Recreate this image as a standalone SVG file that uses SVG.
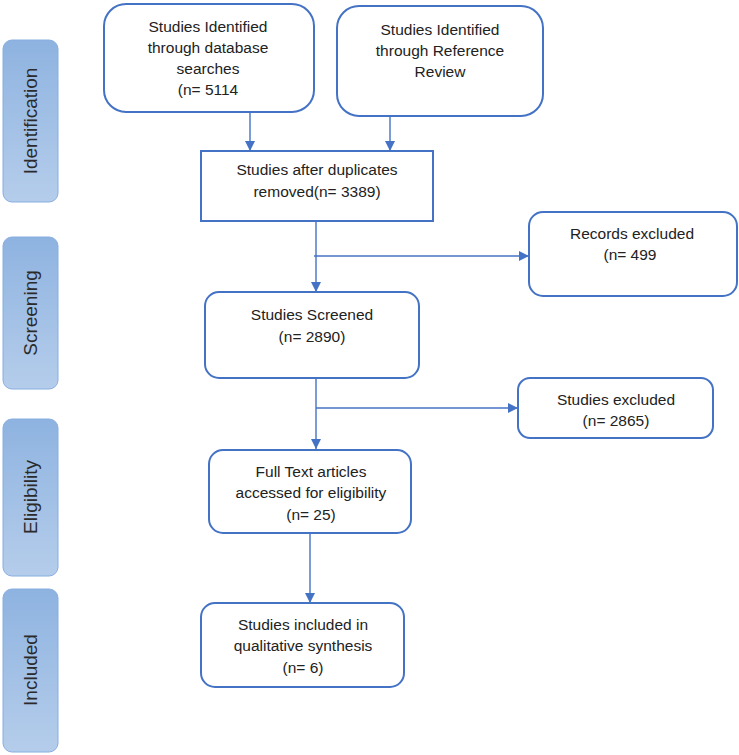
<svg xmlns="http://www.w3.org/2000/svg" width="739" height="755" viewBox="0 0 739 755">
<defs>
<linearGradient id="bar" x1="0" y1="0" x2="0" y2="1">
<stop offset="0" stop-color="#8eb3e0"/>
<stop offset="1" stop-color="#b5cdeb"/>
</linearGradient>
<marker id="ah" viewBox="0 0 10 10" refX="10" refY="5" markerWidth="10" markerHeight="10" markerUnits="userSpaceOnUse" orient="auto">
<path d="M0,0 L10,5 L0,10 z" fill="#4472c4"/>
</marker>
<style>
.bar{fill:url(#bar);stroke:#86aee0;stroke-width:1}
.bt{font-family:"Liberation Sans",Arial,sans-serif;font-size:19px;fill:#2b2b2b;text-anchor:middle}
.box{fill:#fff;stroke:#4472c4;stroke-width:2}
.t{font-family:"Liberation Sans",Arial,sans-serif;font-size:15.5px;fill:#222;text-anchor:middle}
.c{fill:none;stroke:#4472c4;stroke-width:1.4}
</style>
</defs>
<rect width="739" height="755" fill="#fff"/>
<g id="bar-identification"><rect class="bar" x="3" y="40" width="55" height="162" rx="9"/><text class="bt" transform="translate(37,121) rotate(-90)">Identification</text></g>
<g id="bar-screening"><rect class="bar" x="3" y="237" width="55" height="152" rx="9"/><text class="bt" transform="translate(37,313) rotate(-90)">Screening</text></g>
<g id="bar-eligibility"><rect class="bar" x="3" y="419" width="55" height="157" rx="9"/><text class="bt" transform="translate(37,497) rotate(-90)">Eligibility</text></g>
<g id="bar-included"><rect class="bar" x="3" y="589" width="55" height="163" rx="9"/><text class="bt" transform="translate(37,670) rotate(-90)">Included</text></g>

<g id="connectors">
<line class="c" x1="250" y1="113" x2="250" y2="151" marker-end="url(#ah)"/>
<line class="c" x1="390" y1="116" x2="390" y2="151" marker-end="url(#ah)"/>
<line class="c" x1="316" y1="221" x2="316" y2="292" marker-end="url(#ah)"/>
<line class="c" x1="314" y1="256" x2="529" y2="256" marker-end="url(#ah)"/>
<line class="c" x1="316" y1="378" x2="316" y2="449" marker-end="url(#ah)"/>
<line class="c" x1="316" y1="408" x2="518" y2="408" marker-end="url(#ah)"/>
<line class="c" x1="310" y1="533" x2="310" y2="603" marker-end="url(#ah)"/>
</g>

<g id="db"><rect class="box" x="104" y="4" width="210" height="108" rx="22"/>
<text class="t" x="208" y="32">Studies Identified</text>
<text class="t" x="208" y="53">through database</text>
<text class="t" x="208" y="74">searches</text>
<text class="t" x="208" y="95">(n= 5114</text></g>

<g id="ref"><rect class="box" x="337" y="6" width="206" height="110" rx="22"/>
<text class="t" x="440" y="35">Studies Identified</text>
<text class="t" x="440" y="56">through Reference</text>
<text class="t" x="440" y="77">Review</text></g>

<g id="dup"><rect class="box" x="201" y="151" width="232" height="70"/>
<text class="t" x="317" y="175">Studies after duplicates</text>
<text class="t" x="317" y="197">removed(n= 3389)</text></g>

<g id="rec"><rect class="box" x="529" y="212" width="208" height="84" rx="14"/>
<text class="t" x="632" y="239">Records excluded</text>
<text class="t" x="630" y="260">(n= 499</text></g>

<g id="screened"><rect class="box" x="205" y="292" width="214" height="86" rx="14"/>
<text class="t" x="312" y="320">Studies Screened</text>
<text class="t" x="312" y="342">(n= 2890)</text></g>

<g id="excl"><rect class="box" x="518" y="378" width="195" height="60" rx="12"/>
<text class="t" x="616" y="405">Studies excluded</text>
<text class="t" x="616" y="426">(n= 2865)</text></g>

<g id="fulltext"><rect class="box" x="209" y="450" width="202" height="83" rx="14"/>
<text class="t" x="311" y="477">Full Text articles</text>
<text class="t" x="311" y="498">accessed for eligibility</text>
<text class="t" x="311" y="520">(n= 25)</text></g>

<g id="included"><rect class="box" x="201" y="603" width="203" height="84" rx="14"/>
<text class="t" x="303" y="630">Studies included in</text>
<text class="t" x="303" y="651">qualitative synthesis</text>
<text class="t" x="303" y="673">(n= 6)</text></g>
</svg>
